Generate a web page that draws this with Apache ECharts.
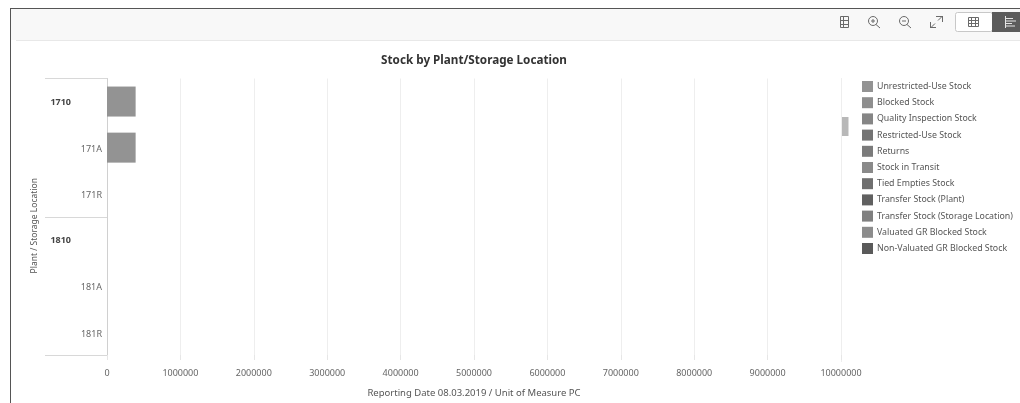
<!DOCTYPE html>
<html>
<head>
<meta charset="utf-8">
<style>html,body{margin:0;padding:0;background:#fff}#chart{width:1020px;height:403px}</style>
<script src="https://cdn.jsdelivr.net/npm/echarts@6/dist/echarts.min.js"></script>
</head>
<body>
<div id="chart"></div>
<script>
// Storage locations grouped by plant
const locations = ['1710', '171A', '171R', '1810', '181A', '181R'];
const plants = ['1710', '1810'];

const stockTypes = [
  'Unrestricted-Use Stock', 'Blocked Stock', 'Quality Inspection Stock',
  'Restricted-Use Stock', 'Returns', 'Stock in Transit', 'Tied Empties Stock',
  'Transfer Stock (Plant)', 'Transfer Stock (Storage Location)',
  'Valuated GR Blocked Stock', 'Non-Valuated GR Blocked Stock'
];
const stockColors = [
  '#939393', '#8e8e8e', '#858585', '#747474', '#7b7b7b', '#8a8a8a',
  '#6f6f6f', '#606060', '#808080', '#8c8c8c', '#5a5a5a'
];

// Quantity per storage location; only unrestricted-use stock is non-zero
const unrestrictedQty = [390000, 390000, 0, 0, 0, 0];
const otherQty = [0, 0, 0, 0, 0, 0];

const FONT = '"Noto Sans", "Open Sans", sans-serif';
const iconStroke = { stroke: '#6a6a6a', lineWidth: 1, fill: 'none' };

function seg(x1, y1, x2, y2, stroke, lineWidth) {
  return { type: 'line', silent: true, shape: { x1, y1, x2, y2 },
           style: { stroke: stroke || iconStroke.stroke, lineWidth: lineWidth || 1 } };
}
function box(x, y, width, height, style, r) {
  return { type: 'rect', silent: true, shape: { x, y, width, height, r: r || 0 }, style };
}
function ring(cx, cy, r) {
  return { type: 'circle', silent: true, shape: { cx, cy, r }, style: iconStroke };
}

// Frame, toolbar strip and its buttons
const chrome = [
  box(11, 9, 1009, 31, { fill: '#f8f8f8' }),
  seg(16, 40.5, 1020, 40.5, '#e8e8e8', 1),
  seg(10.5, 8, 10.5, 403, '#555555', 1),
  seg(10, 8.5, 1020, 8.5, '#555555', 1),

  // table settings
  box(840.5, 16.5, 8, 11, iconStroke),
  seg(840, 20.5, 849, 20.5), seg(840, 24.5, 849, 24.5),
  seg(843.5, 17, 843.5, 27),

  // zoom in
  ring(873, 21, 4.5), seg(876, 24.5, 880, 28),
  seg(871, 21, 875, 21), seg(873, 19, 873, 23),

  // zoom out
  ring(904, 21, 4.5), seg(907, 24.5, 911, 28), seg(902, 21, 906, 21),

  // full screen
  seg(931, 27.5, 935, 23.5), seg(930.5, 22, 930.5, 28), seg(930, 27.5, 936, 27.5),
  seg(942, 16.5, 938, 20.5), seg(936, 16.5, 942, 16.5), seg(942.5, 16, 942.5, 22),

  // table / chart toggle
  box(955.5, 12.5, 37, 19, { fill: '#ffffff', stroke: '#c8c8c8', lineWidth: 1 }, 2),
  box(992, 12, 28, 20, { fill: '#5c5c5c' }),
  box(968.5, 17.5, 10, 9, iconStroke),
  seg(971.5, 17, 971.5, 27), seg(975.5, 17, 975.5, 27),
  seg(968, 20.5, 979, 20.5), seg(968, 23.5, 979, 23.5),
  seg(1005.5, 16, 1005.5, 28, '#e6e6e6'),
  seg(1006, 18.5, 1013, 18.5, '#e6e6e6'), seg(1006, 21, 1016, 21, '#e6e6e6'),
  seg(1006, 23.5, 1012, 23.5, '#e6e6e6'), seg(1006, 26, 1015, 26, '#e6e6e6'),

  // legend scroll track and thumb
  seg(841.5, 78, 841.5, 362, '#eeeeee', 1),
  box(842, 117, 6.5, 19, { fill: '#b8b8b8' })
];

const series = stockTypes.map((name, i) => ({
  name,
  type: 'bar',
  stack: 'stock',
  barWidth: 30,
  itemStyle: { color: stockColors[i] },
  emphasis: { disabled: true },
  data: i === 0 ? unrestrictedQty : otherQty
}));

const option = {
  animation: false,
  textStyle: { fontFamily: FONT },
  title: {
    text: 'Stock by Plant/Storage Location',
    left: 474, top: 55, padding: 0, textAlign: 'center',
    textStyle: { fontFamily: FONT, fontSize: 11.7, fontWeight: 'bold', color: '#333333' }
  },
  legend: {
    orient: 'vertical', left: 862, top: 81, padding: 0,
    itemWidth: 11, itemHeight: 11, itemGap: 5.2,
    icon: 'rect', selectedMode: false,
    textStyle: { fontFamily: FONT, fontSize: 8.8, color: '#555555', padding: [0, 0, 0, -1] },
    data: stockTypes
  },
  grid: { left: 107, right: 179, top: 78.5, height: 279 },
  xAxis: {
    type: 'value', min: 0, max: 10000000, interval: 1000000,
    name: 'Reporting Date 08.03.2019 / Unit of Measure PC',
    nameLocation: 'middle', nameGap: 33,
    nameTextStyle: { fontFamily: FONT, fontSize: 9.5, color: '#555555' },
    axisLine: { show: false },
    axisTick: { show: true, length: 5, lineStyle: { color: '#e6e6e6' } },
    axisLabel: {
      margin: 14, fontFamily: FONT, fontSize: 9, color: '#666666',
      formatter: v => String(v)
    },
    splitLine: { show: true, lineStyle: { color: '#eeeeee' } }
  },
  yAxis: [
    {
      type: 'category', inverse: true, data: locations,
      name: 'Plant / Storage Location', nameLocation: 'middle', nameGap: 66,
      nameTextStyle: { fontFamily: FONT, fontSize: 8.5, color: '#555555', padding: [0, 18, 0, 0] },
      axisLine: { show: true, lineStyle: { color: '#d0d0d0' } },
      axisTick: { show: false },
      axisLabel: {
        margin: 5,
        formatter: v => plants.includes(v) ? `{plant|${v}}` : `{loc|${v}}`,
        rich: {
          plant: { fontFamily: FONT, fontSize: 9, fontWeight: 'bold', color: '#444444', padding: [2, 31, 0, 0] },
          loc: { fontFamily: FONT, fontSize: 9, color: '#666666', padding: [4, 0, 0, 0] }
        }
      }
    },
    {
      // outer level of the axis: separators between plants
      type: 'category', inverse: true, position: 'left', data: plants,
      axisLine: { show: false },
      axisLabel: { show: false },
      axisTick: { show: true, length: 62, lineStyle: { color: '#d8d8d8' } },
      splitLine: { show: false }
    }
  ],
  graphic: { elements: chrome },
  series
};

echarts.init(document.getElementById('chart'), null, { renderer: 'canvas' }).setOption(option);
</script>
</body>
</html>
